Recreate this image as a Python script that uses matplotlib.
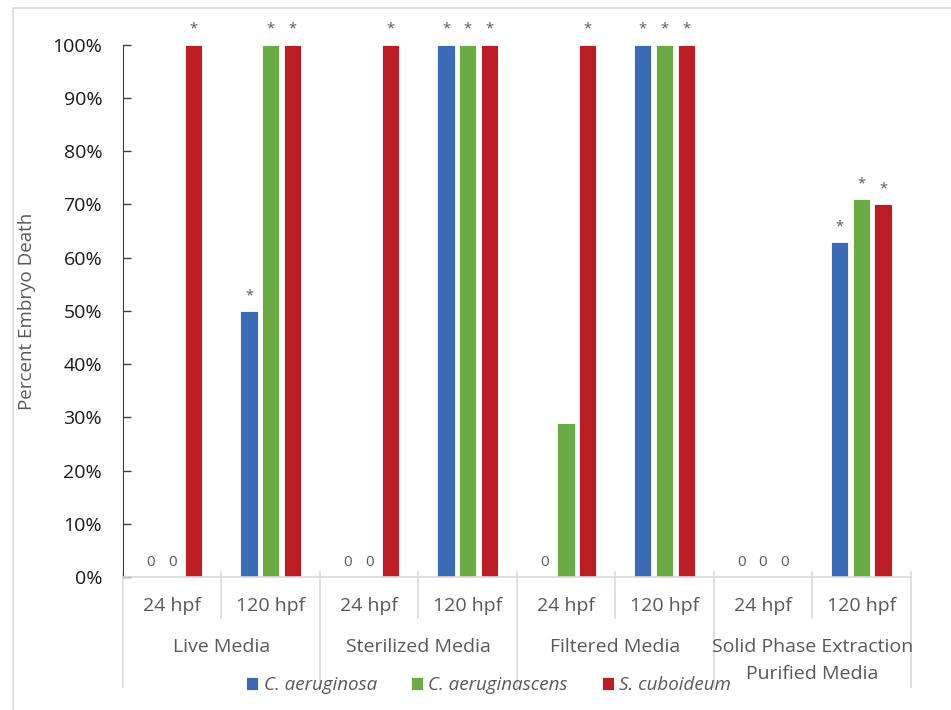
import matplotlib.pyplot as plt
from matplotlib.patches import Rectangle
from matplotlib.ticker import PercentFormatter

plt.rcParams['font.family'] = ['Open Sans', 'DejaVu Sans']

# data
media = ["Live Media", "Sterilized Media", "Filtered Media",
         "Solid Phase Extraction\nPurified Media"]
times = ["24 hpf", "120 hpf"]
series = ["C. aeruginosa", "C. aeruginascens", "S. cuboideum"]
colors = ["#3A6BB4", "#6AAB43", "#BA1E24"]

aeruginosa = [0, 50, 0, 100, 0, 100, 0, 63]
aeruginascens = [0, 100, 0, 100, 29, 100, 0, 71]
cuboideum = [100, 100, 100, 100, 100, 100, 0, 70]

# подписи над столбцами
lab_aeruginosa = ["0", "*", "0", "*", "0", "*", "0", "*"]
lab_aeruginascens = ["0", "*", "0", "*", "", "*", "0", "*"]
lab_cuboideum = ["*", "*", "*", "*", "*", "*", "0", "*"]

values = [aeruginosa, aeruginascens, cuboideum]
labels = [lab_aeruginosa, lab_aeruginascens, lab_cuboideum]

fig = plt.figure(figsize=(9.51, 7.10), dpi=100)
ax = fig.add_axes([0.1293, 0.1869, 0.8283, 0.7503])

# рамка вокруг всей диаграммы
fig.patches.append(Rectangle((13 / 951, -0.1), 1.2, 1.1 - 8 / 710,
                             transform=fig.transFigure, fill=False,
                             edgecolor="#D9D9D9", lw=1.2))

n = len(aeruginosa)
pitch = 0.22
width = 0.175
gray = "#595959"

for i in range(3):
    xs = [k + 0.5 + (i - 1) * pitch for k in range(n)]
    bars = ax.bar(xs, values[i], width=width, color=colors[i],
                  edgecolor="white", linewidth=0.6, label=series[i])
    for x, v, t in zip(xs, values[i], labels[i]):
        if not t:
            continue
        fs = 11 if t == "0" else 10.5
        ax.annotate(t, (x, v / 100), xytext=(0, 8.4), textcoords="offset points",
                    ha="center", va="baseline", fontsize=fs, color=gray,
                    clip_on=False)
    for b, v in zip(bars, values[i]):
        b.set_height(v / 100)

ax.set_xlim(0, n)
ax.set_ylim(0, 1)
ax.set_yticks([k / 10 for k in range(11)])
ax.yaxis.set_major_formatter(PercentFormatter(1.0, decimals=0))
ax.tick_params(axis="y", direction="in", length=6, width=1, color="#404040",
               labelsize=14, pad=15, labelcolor="#1a1a1a")
ax.set_xticks([])

for s in ["top", "right"]:
    ax.spines[s].set_visible(False)
ax.spines["left"].set_color("#404040")
ax.spines["bottom"].set_color("#D9D9D9")
ax.spines["bottom"].set_linewidth(1.2)

ax.set_ylabel("Percent Embryo Death", fontsize=13.5, color=gray, labelpad=12)

# многоуровневая ось x
tr = ax.get_xaxis_transform()
for k in range(n + 1):
    low = -0.206 if k % 2 == 0 else -0.0764
    ax.plot([k, k], [0.01, low], transform=tr, color="#D9D9D9", lw=1.2,
            clip_on=False)
for k in range(n):
    ax.text(k + 0.5, -0.0533, times[k % 2], transform=tr, ha="center",
            va="center", fontsize=14, color=gray)
for j, m in enumerate(media):
    # каждая строка отдельным текстом
    for r, line in enumerate(m.split("\n")):
        ax.text(2 * j + 1, -0.13 - r * 0.0515, line, transform=tr,
                ha="center", va="center", fontsize=14, color=gray)

leg = fig.legend(loc="center", bbox_to_anchor=(0.5137, 0.035), ncol=3,
                 frameon=False, handlelength=0.65, handleheight=0.65,
                 handletextpad=0.3, columnspacing=1.8,
                 prop={"style": "italic", "size": 13.5})
for t in leg.get_texts():
    t.set_color(gray)

fig.savefig("out.png", dpi=100)
